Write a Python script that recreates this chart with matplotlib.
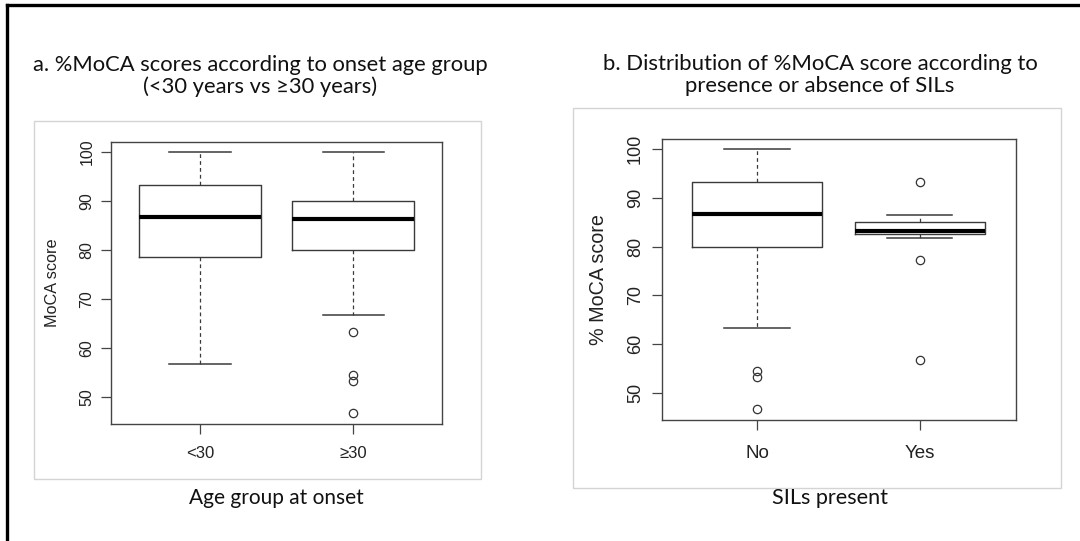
import matplotlib
matplotlib.use("Agg")
import matplotlib.pyplot as plt
from matplotlib.patches import Rectangle
from matplotlib.lines import Line2D

W, H = 1080, 541

# Panel a: %MoCA by onset age group
a_groups = ["<30", "\u226530"]
a_med = [86.7, 86.4]
a_q1 = [78.6, 80.0]
a_q3 = [93.3, 90.0]
a_lo = [56.7, 66.7]
a_hi = [100.0, 100.0]
a_out = [[], [63.3, 54.5, 53.3, 46.7]]

# Panel b: %MoCA by presence of SILs
b_groups = ["No", "Yes"]
b_med = [86.7, 83.3]
b_q1 = [80.0, 82.5]
b_q3 = [93.3, 85.0]
b_lo = [63.3, 81.7]
b_hi = [100.0, 86.5]
b_out = [[54.5, 53.3, 46.7], [93.3, 77.3, 56.7]]

yticks = [50, 60, 70, 80, 90, 100]
r_font = ["Liberation Sans", "DejaVu Sans"]

fig = plt.figure(figsize=(W / 100, H / 100), dpi=100)
fig.patch.set_facecolor("white")


def px_axes(x0, y0, x1, y1):
    return fig.add_axes([x0 / W, 1 - y1 / H, (x1 - x0) / W, (y1 - y0) / H])


def fig_rect(x0, y0, x1, y1, color, lw):
    fig.patches.append(Rectangle((x0 / W, 1 - y1 / H), (x1 - x0) / W, (y1 - y0) / H,
                                 transform=fig.transFigure, fill=False,
                                 edgecolor=color, linewidth=lw, zorder=0))


def stats(groups, med, q1, q3, lo, hi, out):
    return [dict(label=g, med=m, q1=a, q3=b, whislo=l, whishi=h, fliers=f)
            for g, m, a, b, l, h, f in zip(groups, med, q1, q3, lo, hi, out)]


def draw_box(ax, st, ytick_fs, xtick_fs, lab_fs, ylabel, xlim, ylim, ypad, xpad, lpad):
    line_c = "#3a3a3a"
    ax.bxp(st, positions=[1, 2], widths=0.8, showfliers=True,
           boxprops=dict(color=line_c, linewidth=1.0),
           whiskerprops=dict(color=line_c, linewidth=0.9, linestyle=(0, (3, 2.5))),
           capprops=dict(color=line_c, linewidth=1.1),
           medianprops=dict(color="black", linewidth=3.0),
           flierprops=dict(marker="o", markerfacecolor="none", markeredgecolor="#333333",
                           markersize=6, markeredgewidth=0.9),
           capwidths=0.4)
    ax.set_xlim(*xlim)
    ax.set_ylim(*ylim)
    ax.set_yticks(yticks)
    ax.set_yticklabels([str(t) for t in yticks], rotation=90, va="center",
                       fontsize=ytick_fs, family=r_font, color="#222222")
    ax.set_xticks([1, 2])
    ax.set_xticklabels([s["label"] for s in st], fontsize=xtick_fs,
                       family=r_font, color="#222222")
    ax.tick_params(axis="both", direction="out", length=7, width=0.9, color="#444444")
    ax.tick_params(axis="y", pad=ypad)
    ax.tick_params(axis="x", pad=xpad)
    for sp in ax.spines.values():
        sp.set_color("#444444")
        sp.set_linewidth(1.0)
    ax.set_ylabel(ylabel, fontsize=lab_fs, family=r_font, color="#222222",
                  labelpad=lpad)


# outer border (left and top)
fig.add_artist(Line2D([7 / W, 7 / W], [0, 1 - 5 / H], transform=fig.transFigure,
                      color="black", linewidth=2.4))
fig.add_artist(Line2D([7 / W, 1], [1 - 5 / H, 1 - 5 / H], transform=fig.transFigure,
                      color="black", linewidth=2.4))

# light frames around the two plot images
fig_rect(34, 121, 481, 479, "#d4d4d4", 1.0)
fig_rect(573, 108, 1061, 488, "#d4d4d4", 1.0)

ax_a = px_axes(111, 142, 442, 424)
draw_box(ax_a, stats(a_groups, a_med, a_q1, a_q3, a_lo, a_hi, a_out), 11.5, 12, 11.7,
         "MoCA score", (0.418, 2.58), (44.49, 102.04), 5, 9, 14)

ax_b = px_axes(662, 139, 1016, 420)
draw_box(ax_b, stats(b_groups, b_med, b_q1, b_q3, b_lo, b_hi, b_out), 13, 13.5, 14.2,
         "% MoCA score", (0.417, 2.59), (44.47, 102.05), 6, 11, 14)

title_font = "Lato"
fig.text(260 / W, 1 - 76 / H, "a. %MoCA scores according to onset age group\n(<30 years vs \u226530 years)",
         ha="center", va="center", fontsize=15.8, family=title_font, color="#111111",
         linespacing=1.12)
fig.text(820 / W, 1 - 75 / H, "b. Distribution of %MoCA score according to\npresence or absence of SILs",
         ha="center", va="center", fontsize=15.9, family=title_font, color="#111111",
         linespacing=1.12)
fig.text(276 / W, 1 - 498 / H, "Age group at onset", ha="center", va="center",
         fontsize=15, family=title_font, color="#111111")
fig.text(830 / W, 1 - 498 / H, "SILs present", ha="center", va="center",
         fontsize=15.6, family=title_font, color="#111111")

fig.savefig("out.png", dpi=100, facecolor="white")
